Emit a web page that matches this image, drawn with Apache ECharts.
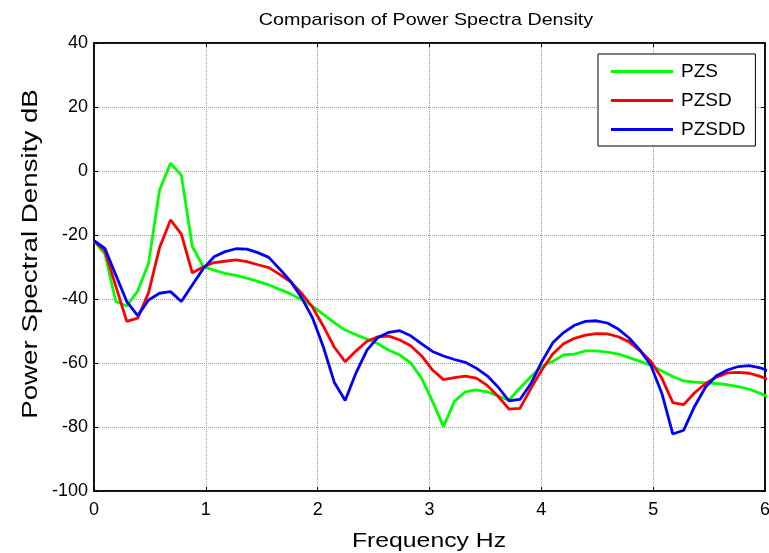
<!DOCTYPE html>
<html>
<head>
<meta charset="utf-8">
<script src="https://cdn.jsdelivr.net/npm/echarts@6/dist/echarts.min.js"></script>
<style>
html,body{margin:0;padding:0;background:#fff;}
#c{width:769px;height:553px;}
</style>
</head>
<body>
<div id="c"></div>
<script>
var freq = [0, 0.098, 0.195, 0.293, 0.391, 0.488, 0.586, 0.684, 0.781, 0.879,
  0.977, 1.074, 1.172, 1.270, 1.367, 1.465, 1.563, 1.660, 1.758, 1.855,
  1.953, 2.051, 2.148, 2.246, 2.344, 2.441, 2.539, 2.637, 2.734, 2.832,
  2.930, 3.027, 3.125, 3.223, 3.320, 3.418, 3.516, 3.613, 3.711, 3.809,
  3.906, 4.004, 4.102, 4.199, 4.297, 4.395, 4.492, 4.590, 4.688, 4.785,
  4.883, 4.980, 5.078, 5.176, 5.273, 5.371, 5.469, 5.566, 5.664, 5.762,
  5.859, 5.957, 6.055];
var pzs = [-21.8, -26, -40.8, -42.2, -37.5, -28.8, -6, 2.4, -1.3, -23.6,
  -29.9, -31, -32, -32.6, -33.5, -34.5, -35.6, -37, -38.4, -40.2,
  -42.2, -44.8, -47.4, -49.7, -51.2, -52.5, -54, -56, -57.5, -60,
  -64.8, -72, -79.9, -72, -69, -68.4, -69, -70.3, -71.6, -67.8,
  -64.3, -61, -59.5, -57.5, -57.2, -56.2, -56.2, -56.6, -57.2, -58.3,
  -59.5, -60.8, -62.5, -64.2, -65.6, -66, -66.2, -66.4, -66.8, -67.4,
  -68.2, -69.5, -71];
var pzsd = [-21.8, -25, -36, -47, -46, -38, -24, -15.3, -19.7, -31.8,
  -30, -28.6, -28.2, -27.8, -28.3, -29.3, -30.2, -32.3, -34.6, -38.2,
  -42.5, -48.5, -55, -59.6, -56.2, -53.2, -51.8, -51.6, -52.8, -54.6,
  -57.8, -62.2, -65.2, -64.6, -64.1, -64.7, -67, -70.4, -74.4, -74.2,
  -68, -62.2, -57.2, -54, -52.3, -51.3, -50.8, -50.9, -51.8, -53.4,
  -56.2, -59.5, -64.8, -72.4, -73, -69.3, -66.4, -64.4, -63.1, -62.9,
  -63.2, -64.2, -65.5];
var pzsdd = [-21.8, -24.2, -32.5, -40.8, -45.2, -40.3, -38.2, -37.7, -40.8, -35.6,
  -30.5, -26.8, -25.2, -24.3, -24.4, -25.5, -27, -30.6, -34.5, -39.5,
  -45.8, -55, -66, -71.7, -63, -56, -52, -50.4, -49.9, -51.5,
  -54, -56.4, -57.8, -58.9, -59.8, -61.6, -64, -67.5, -71.8, -71.4,
  -66.5, -59.6, -53.7, -50.5, -48.2, -47, -46.8, -47.5, -49.4, -52.2,
  -56, -60.8, -69.5, -82.2, -81, -73.5, -67.5, -64, -62.2, -61.1,
  -60.8, -61.5, -62.8];
var seriesNames = ['PZS', 'PZSD', 'PZSDD'];
var seriesColors = ['#00ff00', '#ff0000', '#0000ff'];
var titleText = 'Comparison of Power Spectra Density';
var xName = 'Frequency Hz';
var yName = 'Power Spectral Density dB';

function pairs(ys) {
  return freq.map(function (f, i) { return [f, ys[i]]; });
}

var FONT = '"Liberation Sans", Arial, Helvetica, sans-serif';
var chart = echarts.init(document.getElementById('c'), null, {renderer: 'canvas'});
var dataSets = [pzs, pzsd, pzsdd];

var option = {
  backgroundColor: '#ffffff',
  animation: false,
  graphic: [{
    type: 'text', x: 426, y: 20, scaleX: 1.16,
    style: {text: titleText, font: '17px ' + FONT, fill: '#000', align: 'center', verticalAlign: 'middle'}
  }, {
    type: 'text', x: 429, y: 541, scaleX: 1.18,
    style: {text: xName, font: '21px ' + FONT, fill: '#000', align: 'center', verticalAlign: 'middle'}
  }, {
    type: 'text', x: 31, y: 254, rotation: Math.PI / 2, scaleX: 1.26,
    style: {text: yName, font: '22px ' + FONT, fill: '#000', align: 'center', verticalAlign: 'middle'}
  }],
  legend: {
    orient: 'vertical',
    left: 598, top: 54,
    backgroundColor: '#fff',
    borderColor: '#000', borderWidth: 1,
    padding: [8, 10, 7, 13],
    itemWidth: 62, itemHeight: 3, itemGap: 10,
    icon: 'rect',
    textStyle: {fontFamily: FONT, fontSize: 19, color: '#000', padding: [0, 0, 0, 3]},
    data: seriesNames
  },
  grid: {
    left: 94, right: 4, top: 43, bottom: 62,
    outerBoundsMode: 'none', containLabel: false,
    show: true, borderColor: '#000', borderWidth: 1.5, backgroundColor: '#fff'
  },
  xAxis: [{
    type: 'value', min: 0, max: 6, interval: 1,
    axisLine: {show: true, onZero: false, lineStyle: {color: '#000', width: 1.5}},
    axisTick: {show: true, inside: true, length: 4, lineStyle: {color: '#000'}},
    axisLabel: {fontFamily: FONT, fontSize: 18, color: '#000', margin: 10},
    splitLine: {show: true, lineStyle: {color: '#a0a0a0', type: 'dotted', width: 1}}
  }, {
    type: 'value', min: 0, max: 6, interval: 1, position: 'top',
    axisLine: {show: true, onZero: false, lineStyle: {color: '#000', width: 1.5}},
    axisTick: {show: true, inside: true, length: 4, lineStyle: {color: '#000'}},
    axisLabel: {show: false}, splitLine: {show: false}
  }],
  yAxis: [{
    type: 'value', min: -100, max: 40, interval: 20,
    axisLine: {show: true, onZero: false, lineStyle: {color: '#000', width: 1.5}},
    axisTick: {show: true, inside: true, length: 4, lineStyle: {color: '#000'}},
    axisLabel: {fontFamily: FONT, fontSize: 18, color: '#000', margin: 6},
    splitLine: {show: true, lineStyle: {color: '#a0a0a0', type: 'dotted', width: 1}}
  }, {
    type: 'value', min: -100, max: 40, interval: 20, position: 'right',
    axisLine: {show: true, onZero: false, lineStyle: {color: '#000', width: 1.5}},
    axisTick: {show: true, inside: true, length: 4, lineStyle: {color: '#000'}},
    axisLabel: {show: false}, splitLine: {show: false}
  }],
  series: seriesNames.map(function (n, k) {
    return {
      name: n, type: 'line', data: pairs(dataSets[k]),
      xAxisIndex: 0, yAxisIndex: 0,
      showSymbol: false, symbol: 'none', clip: true,
      color: seriesColors[k],
      lineStyle: {color: seriesColors[k], width: 2.8},
      z: 2 + k
    };
  })
};
chart.setOption(option);
</script>
</body>
</html>
